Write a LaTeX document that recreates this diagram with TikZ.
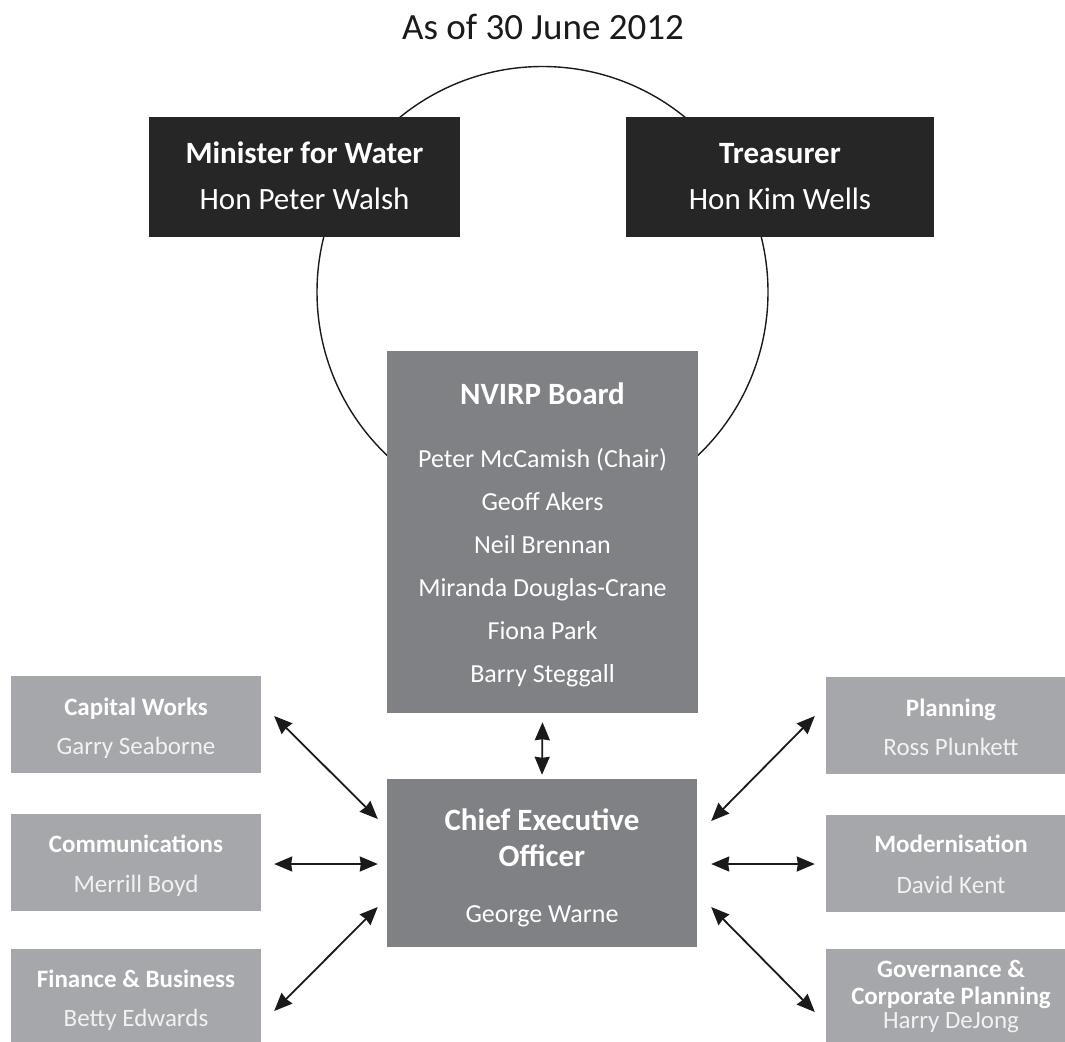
\documentclass[tikz,border=0pt]{standalone}
\usepackage{fontspec}
\setmainfont{Carlito}
\usetikzlibrary{arrows.meta,calc}
\definecolor{topbox}{HTML}{262626}
\definecolor{midbox}{HTML}{808185}
\definecolor{sidebox}{HTML}{A6A7AA}
\definecolor{inkc}{HTML}{1A1A1A}
\tikzset{
  topnode/.style={rectangle, fill=topbox, inner sep=0pt, minimum width=#1, minimum height=120pt},
  midnode/.style={rectangle, fill=midbox, inner sep=0pt, minimum width=311pt},
  sidenode/.style={rectangle, fill=sidebox, inner sep=0pt, minimum width=250pt, minimum height=97pt},
  toptitle/.style={anchor=mid, text=white, font=\fontsize{31}{33}\selectfont\bfseries},
  topname/.style={anchor=mid, text=white, font=\fontsize{31}{33}\selectfont},
  boxtitle/.style={anchor=mid, text=white, font=\fontsize{31}{33}\selectfont\bfseries},
  boxname/.style={anchor=mid, text=white, font=\fontsize{26}{28}\selectfont},
  sidetitle/.style={anchor=mid, text=white, font=\fontsize{25}{27}\selectfont\bfseries},
  sidename/.style={anchor=mid, text=white!95!black, font=\fontsize{25}{27}\selectfont},
  link/.style={line width=1.8pt, inkc, {Stealth[length=18pt,width=15pt,inset=1pt]}-{Stealth[length=18pt,width=15pt,inset=1pt]}}
}
\begin{document}
\begin{tikzpicture}[x=1pt,y=-1pt]
\useasboundingbox (0,0) rectangle (1065,1041);
\clip (0,0) rectangle (1065,1041);

\node[anchor=mid, text=inkc, font=\fontsize{37}{40}\selectfont] (title) at (543,37) {As of 30 June 2012};

% ring
\draw[line width=1.4pt, inkc] (542.5,292) circle[radius=225.5];

% top boxes
\node[topnode=311pt] (min) at (304.5,177) {};
\node[toptitle] (mint) at (304.5,161) {Minister for Water};
\node[topname] (minn) at (304.5,207) {Hon Peter Walsh};

\node[topnode=308pt] (tre) at (780,177) {};
\node[toptitle] (tret) at (780,161) {Treasurer};
\node[topname] (tren) at (780,207) {Hon Kim Wells};

% board
\node[midnode, minimum height=362pt] (board) at (542.5,532) {};
\node[boxtitle] (bt) at (542.5,402) {NVIRP Board};
\node[boxname] (b1) at (542.5,465) {Peter McCamish (Chair)};
\node[boxname] (b2) at (542.5,508) {Geoff Akers};
\node[boxname] (b3) at (542.5,551) {Neil Brennan};
\node[boxname] (b4) at (542.5,594) {Miranda Douglas-Crane};
\node[boxname] (b5) at (542.5,637) {Fiona Park};
\node[boxname] (b6) at (542.5,680) {Barry Steggall};

% CEO
\node[midnode, minimum width=310pt, minimum height=168pt] (ceo) at (542,863) {};
\node[boxtitle] (ct1) at (542,828) {Chief Executive};
\node[boxtitle] (ct2) at (542,864) {Officer};
\node[boxname] (cn) at (542,920) {George Warne};

% left boxes
\node[sidenode] (cw) at (136,724.5) {};
\node[sidetitle] (cwt) at (136,713) {Capital Works};
\node[sidename] (cwn) at (136,752) {Garry Seaborne};

\node[sidenode] (com) at (136,862.5) {};
\node[sidetitle] (comt) at (136,850) {Communications};
\node[sidename] (comn) at (136,890) {Merrill Boyd};

\node[sidenode] (fin) at (136,997.5) {};
\node[sidetitle] (fint) at (136,985) {Finance \& Business};
\node[sidename] (finn) at (136,1024) {Betty Edwards};

% right boxes
\node[sidenode] (pl) at (951,725.5) {};
\node[sidetitle] (plt) at (951,714) {Planning};
\node[sidename] (pln) at (951,753) {Ross Plunkett};

\node[sidenode] (mod) at (951,863.5) {};
\node[sidetitle] (modt) at (951,850) {Modernisation};
\node[sidename] (modn) at (951,891) {David Kent};

\node[sidenode] (gov) at (951,997.5) {};
\node[sidetitle] (govt1) at (951,975) {Governance \&};
\node[sidetitle] (govt2) at (951,1002) {Corporate Planning};
\node[sidename] (govn) at (951,1026) {Harry DeJong};

% connectors
\draw[link] ($(board.south)+(0,9)$) -- ($(ceo.north)+(0,-4)$);
\draw[link] ($(cw.east)+(13,-8.5)$) -- ($(ceo.west)+(-9,-44)$);
\draw[link] ($(com.east)+(13,1.5)$) -- ($(ceo.west)+(-9,1)$);
\draw[link] ($(fin.east)+(13,13.5)$) -- ($(ceo.west)+(-9,44)$);
\draw[link] ($(ceo.east)+(14,-42)$) -- ($(pl.west)+(-11,-9.5)$);
\draw[link] ($(ceo.east)+(14,1)$) -- ($(mod.west)+(-11,0.5)$);
\draw[link] ($(ceo.east)+(14,44)$) -- ($(gov.west)+(-11,14.5)$);
\end{tikzpicture}
\end{document}
